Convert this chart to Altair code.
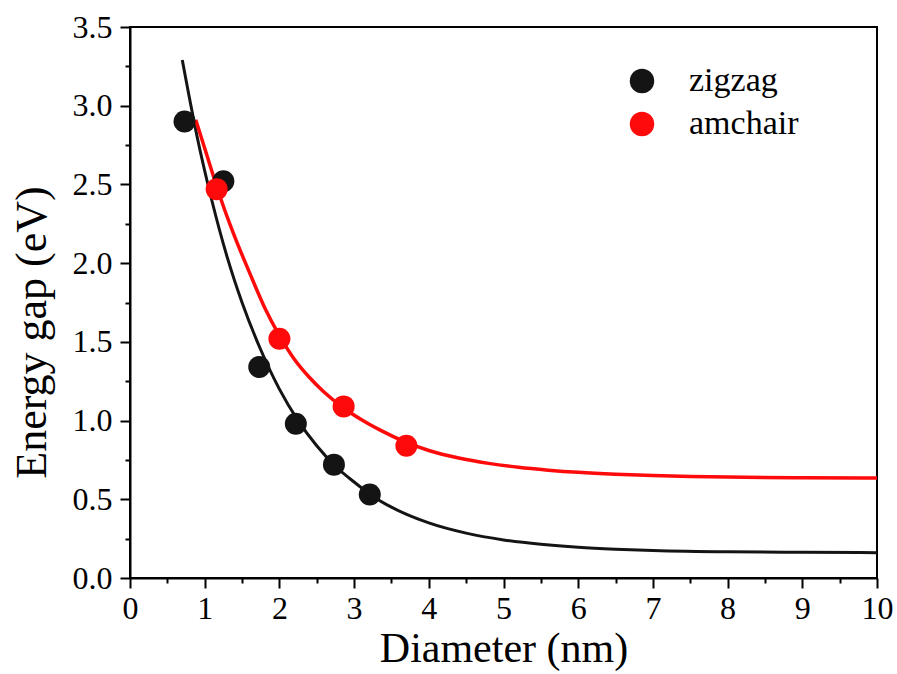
import altair as alt
import pandas as pd

# measured data points
zig_d = [0.73, 1.25, 1.73, 2.22, 2.73, 3.21]
zig_e = [2.90, 2.52, 1.34, 0.98, 0.72, 0.53]
arm_d = [1.16, 2.00, 2.86, 3.70]
arm_e = [2.47, 1.52, 1.09, 0.84]

# fitted curves
zig_fit_d = [0.70, 0.90, 1.10, 1.30, 1.50, 1.75, 2.00, 2.25, 2.50, 2.75, 3.00, 3.25,
             3.50, 4.00, 4.50, 5.00, 5.50, 6.00, 6.50, 7.00, 8.00, 9.00, 10.0]
zig_fit_e = [3.29, 2.80, 2.39, 2.04, 1.75, 1.45, 1.20, 1.00, 0.84, 0.71, 0.61, 0.52,
             0.45, 0.35, 0.285, 0.242, 0.214, 0.195, 0.183, 0.175, 0.166, 0.163, 0.161]
arm_fit_d = [0.88, 1.00, 1.20, 1.40, 1.60, 1.80, 2.00, 2.20, 2.40, 2.60, 2.86, 3.10,
             3.35, 3.70, 4.00, 4.40, 4.80, 5.20, 5.60, 6.00, 6.50, 7.00, 7.50, 8.00, 9.00, 10.0]
arm_fit_e = [2.91, 2.73, 2.43, 2.17, 1.94, 1.72, 1.54, 1.39, 1.275, 1.18, 1.08, 1.005,
             0.939, 0.861, 0.81, 0.762, 0.728, 0.703, 0.685, 0.671, 0.659, 0.651, 0.645, 0.641, 0.637, 0.635]

series = ["zigzag", "amchair"]
colors = ["#141414", "#ff0a0a"]

x_major = [0, 1, 2, 3, 4, 5, 6, 7, 8, 9, 10]
x_minor = [0.5, 1.5, 2.5, 3.5, 4.5, 5.5, 6.5, 7.5, 8.5, 9.5]
y_major = [0, 0.5, 1.0, 1.5, 2.0, 2.5, 3.0, 3.5]
y_minor = [0.25, 0.75, 1.25, 1.75, 2.25, 2.75, 3.25]

FONT = "Liberation Serif"

pts = pd.DataFrame({
    "d": zig_d + arm_d,
    "e": zig_e + arm_e,
    "s": [series[0]] * len(zig_d) + [series[1]] * len(arm_d),
})
zig_fit = pd.DataFrame({"d": zig_fit_d, "e": zig_fit_e})
arm_fit = pd.DataFrame({"d": arm_fit_d, "e": arm_fit_e})

xs = alt.Scale(domain=[0, 10], nice=False)
ys = alt.Scale(domain=[0, 3.5], nice=False)

x_axis = alt.Axis(
    values=x_major, format="d", title="Diameter (nm)", orient="bottom",
    grid=False, labelFlush=False, labelOverlap=False,
    tickSize=10, labelPadding=5, titleY=50, titleFontSize=42,
)
y_axis = alt.Axis(
    values=y_major, format=".1f", title="Energy gap (eV)", orient="left",
    grid=False, labelFlush=False, labelOverlap=False,
    tickSize=10, labelPadding=8, titleX=-76, titleY=305, titleFontSize=44,
)
x_minor_axis = alt.Axis(values=x_minor, orient="bottom", labels=False, domain=False,
                        grid=False, tickSize=5, title=None)
y_minor_axis = alt.Axis(values=y_minor, orient="left", labels=False, domain=False,
                        grid=False, tickSize=5, title=None)

minor = alt.Chart(zig_fit).mark_line(opacity=0).encode(
    x=alt.X("d:Q", scale=xs, axis=x_minor_axis),
    y=alt.Y("e:Q", scale=ys, axis=y_minor_axis),
)
line_zig = alt.Chart(zig_fit).mark_line(interpolate="monotone", strokeWidth=3, color=colors[0]).encode(
    x=alt.X("d:Q", scale=xs, axis=x_axis),
    y=alt.Y("e:Q", scale=ys, axis=y_axis),
)
line_arm = alt.Chart(arm_fit).mark_line(interpolate="monotone", strokeWidth=3.5, color=colors[1]).encode(
    x=alt.X("d:Q", scale=xs, axis=None),
    y=alt.Y("e:Q", scale=ys, axis=None),
)
points = alt.Chart(pts).mark_circle(size=484, opacity=1).encode(
    x=alt.X("d:Q", scale=xs, axis=None),
    y=alt.Y("e:Q", scale=ys, axis=None),
    color=alt.Color("s:N", scale=alt.Scale(domain=series, range=colors),
                    legend=alt.Legend(orient="none", legendX=495, legendY=37, title=None,
                                      labelFont=FONT, labelFontSize=34, labelColor="black",
                                      symbolSize=600, symbolType="circle", symbolOpacity=1,
                                      symbolStrokeWidth=0, labelOffset=30, rowPadding=9,
                                      padding=0)),
    order=alt.Order("s:N", sort="descending"),
)

chart = alt.layer(minor, line_zig, line_arm, points).resolve_axis(
    x="independent", y="independent"
).properties(
    width=747, height=551,
    padding={"left": 130, "top": 27, "right": 20, "bottom": 96},
    autosize=alt.AutoSizeParams(type="none"),
    background="white",
).configure_view(
    stroke="black", strokeWidth=2
).configure_axis(
    domainColor="black", domainWidth=2, tickColor="black", tickWidth=2,
    labelFont=FONT, labelFontSize=32, labelColor="black",
    titleFont=FONT, titleFontWeight="normal", titleColor="black",
)

chart.save("out.html", embed_options={"renderer": "svg", "actions": False})
